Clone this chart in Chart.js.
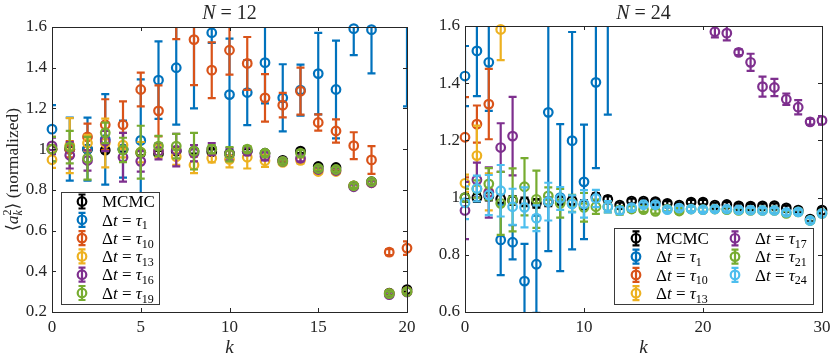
<!DOCTYPE html>
<html>
<head>
<meta charset="utf-8">
<script src="https://cdn.jsdelivr.net/npm/chart.js@4.4.1/dist/chart.umd.min.js"></script>
<style>
html, body { margin: 0; padding: 0; background: #fff; }
#wrap { position: relative; width: 830px; height: 361px; }
canvas { position: absolute; top: 0; }
</style>
</head>
<body>
<div id="wrap">
  <canvas id="chart-n12" width="415" height="361" style="left:0"></canvas>
  <canvas id="chart-n24" width="415" height="361" style="left:415px"></canvas>
</div>
<script>
// ---- data: N = 12 (left) ----
const kN12 = [0,1,2,3,4,5,6,7,8,9,10,11,12,13,14,15,16,17,18,19,20];
const xTicksN12 = [0, 5, 10, 15, 20];
const yTicksN12 = [0.2, 0.4, 0.6, 0.8, 1, 1.2, 1.4, 1.6];

const mcmcN12     = [1.0, 1.0, 1.0, 0.995, 1.0, 0.982, 0.979, 0.99, 0.99, 0.987, 0.98, 0.99, 0.98, 0.945, 0.99, 0.915, 0.91, 0.82, 0.84, 0.293, 0.31];
const mcmcErrN12  = [0.012, 0.012, 0.012, 0.012, 0.012, 0.012, 0.012, 0.012, 0.012, 0.012, 0.012, 0.01, 0.01, 0.01, 0.01, 0.01, 0.01, 0.01, 0.01, 0.01, 0.01];
const tau1N12     = [1.098, 1.0, 1.0, 1.048, 1.0, 1.043, 1.339, 1.4, 1.72, 1.572, 1.268, 1.278, 1.425, 1.252, 1.29, 1.371, 1.293, 1.592, 1.587, null, 1.75];
const tau1ErrN12  = [0.118, 0.155, 0.155, 0.222, 0.14, 0.30, 0.19, 0.28, 0.52, 0.05, 0.275, 0.16, 0.2, 0.165, 0.125, 0.2, 0.24, 0.13, 0.215, null, 0.54];
const tau10N12    = [1.0, 1.0, 1.06, 1.12, 1.12, 1.293, 1.188, 1.76, 1.538, 1.388, 1.486, 1.421, 1.252, 1.216, 1.285, 1.131, 1.089, 1.017, 0.947, 0.494, 0.514];
const tau10ErrN12 = [0.06, 0.04, 0.065, 0.125, 0.115, 0.083, 0.125, 0.22, 0.224, 0.137, 0.12, 0.13, 0.117, 0.06, 0.115, 0.04, 0.057, 0.066, 0.068, 0.015, 0.033];
const tau13N12    = [0.948, 1.017, 1.03, 1.03, 1.02, 0.985, 0.99, 0.963, 0.922, 0.955, 0.95, 0.96, 0.943, 0.935, 0.945, 0.89, 0.89, 0.82, 0.835, 0.29, 0.30];
const tau13ErrN12 = [0.04, 0.135, 0.04, 0.12, 0.06, 0.05, 0.03, 0.04, 0.04, 0.02, 0.04, 0.055, 0.03, 0.01, 0.015, 0.01, 0.01, 0.01, 0.01, 0.01, 0.01];
const tau16N12    = [1.016, 0.97, 0.944, 1.04, 0.96, 0.94, 0.99, 0.995, 0.98, 1.0, 0.975, 0.99, 0.965, 0.94, 0.955, 0.9, 0.895, 0.815, 0.835, 0.285, 0.298];
const tau16ErrN12 = [0.04, 0.065, 0.05, 0.05, 0.12, 0.05, 0.04, 0.08, 0.04, 0.03, 0.03, 0.02, 0.02, 0.01, 0.015, 0.01, 0.01, 0.01, 0.01, 0.01, 0.01];
const tau19N12    = [1.0, 1.01, 0.955, 1.08, 0.996, 0.985, 1.015, 1.015, 0.99, 1.0, 0.975, 1.0, 0.98, 0.94, 0.98, 0.905, 0.9, 0.82, 0.84, 0.29, 0.30];
const tau19ErrN12 = [0.06, 0.08, 0.105, 0.05, 0.06, 0.13, 0.05, 0.06, 0.09, 0.02, 0.035, 0.015, 0.015, 0.01, 0.015, 0.01, 0.01, 0.01, 0.01, 0.01, 0.01];

// ---- data: N = 24 (right) ----
const kN24 = [0,1,2,3,4,5,6,7,8,9,10,11,12,13,14,15,16,17,18,19,20,21,22,23,24,25,26,27,28,29,30];
const xTicksN24 = [0, 10, 20, 30];
const yTicksN24 = [0.6, 0.8, 1, 1.2, 1.4, 1.6];

const mcmcN24     = [1.0, 1.0, 1.005, 0.995, 0.99, 0.985, 0.98, 0.985, 0.99, 0.99, 0.975, 1.003, 0.994, 0.974, 0.988, 0.988, 0.986, 0.98, 0.974, 0.984, 0.984, 0.974, 0.976, 0.971, 0.97, 0.971, 0.972, 0.964, 0.956, 0.925, 0.956];
const mcmcErrN24  = [0.015, 0.015, 0.015, 0.015, 0.015, 0.015, 0.015, 0.015, 0.015, 0.015, 0.015, 0.012, 0.01, 0.008, 0.008, 0.008, 0.008, 0.008, 0.008, 0.008, 0.008, 0.008, 0.008, 0.008, 0.008, 0.008, 0.008, 0.008, 0.008, 0.008, 0.008];
const tau1N24     = [1.425, 1.513, 1.473, 0.852, 0.844, 0.708, 0.767, 1.298, 1.0, 1.199, 1.055, 1.403, 1.75, null, null, null, null, null, null, null, null, null, null, null, null, null, null, null, null, null, null];
const tau1ErrN24  = [0.105, 0.158, 0.17, 0.123, 0.06, 0.13, 0.17, 0.485, 0.257, 0.38, 0.2, 0.3, 0.46, null, null, null, null, null, null, null, null, null, null, null, null, null, null, null, null, null, null];
const tau10N24    = [1.211, 1.257, 1.327, null, null, null, null, null, null, null, null, null, null, null, null, null, null, null, null, null, null, null, null, null, null, null, null, null, null, null, null];
const tau10ErrN24 = [0.14, 0.065, 0.123, null, null, null, null, null, null, null, null, null, null, null, null, null, null, null, null, null, null, null, null, null, null, null, null, null, null, null, null];
const tau13N24    = [1.05, 1.147, 1.02, 1.588, null, null, null, null, null, null, null, null, null, null, null, null, null, null, null, null, null, null, null, null, null, null, null, null, null, null, null];
const tau13ErrN24 = [0.03, 0.105, 0.065, 0.107, null, null, null, null, null, null, null, null, null, null, null, null, null, null, null, null, null, null, null, null, null, null, null, null, null, null, null];
const tau17N24    = [0.955, 1.062, 1.018, 1.175, 1.215, null, null, null, null, null, null, null, null, null, null, null, null, null, null, null, null, 1.58, 1.575, 1.508, 1.473, 1.388, 1.385, 1.344, 1.316, 1.265, 1.27];
const tau17ErrN24 = [0.1, 0.06, 0.088, 0.085, 0.137, null, null, null, null, null, null, null, null, null, null, null, null, null, null, null, null, 0.02, 0.025, 0.01, 0.03, 0.035, 0.03, 0.02, 0.025, 0.01, 0.015];
const tau21N24    = [1.0, 1.03, 1.048, 0.98, 0.992, 1.038, 0.994, 1.006, 0.98, 0.98, 0.966, 0.968, 0.968, 0.955, 0.96, 0.958, 0.952, 0.96, 0.953, 0.96, 0.958, 0.96, 0.958, 0.955, 0.955, 0.955, 0.955, 0.945, 0.95, 0.92, 0.945];
const tau21ErrN24 = [0.03, 0.03, 0.055, 0.11, 0.11, 0.1, 0.1, 0.03, 0.05, 0.03, 0.05, 0.025, 0.02, 0.015, 0.01, 0.008, 0.008, 0.008, 0.008, 0.008, 0.008, 0.008, 0.008, 0.008, 0.008, 0.008, 0.008, 0.008, 0.008, 0.008, 0.008];
const tau24N24    = [0.982, 1.032, 1.009, 1.024, 0.968, 0.966, 0.928, 0.986, 0.997, 0.978, 0.978, 0.997, 0.968, 0.955, 0.965, 0.975, 0.975, 0.958, 0.963, 0.96, 0.958, 0.96, 0.96, 0.957, 0.956, 0.955, 0.955, 0.948, 0.95, 0.92, 0.945];
const tau24ErrN24 = [0.057, 0.045, 0.07, 0.09, 0.063, 0.07, 0.045, 0.066, 0.04, 0.03, 0.048, 0.03, 0.02, 0.012, 0.01, 0.008, 0.008, 0.008, 0.008, 0.008, 0.008, 0.008, 0.008, 0.008, 0.008, 0.008, 0.008, 0.008, 0.008, 0.008, 0.008];

// matlab default colours
const cBlack = '#000000', cBlue = '#0072BD', cOrange = '#D95319', cYellow = '#EDB120',
      cPurple = '#7E2F8E', cGreen = '#77AC30', cCyan = '#4DBEEE';

const SERIF = '"Liberation Serif", "DejaVu Serif", serif';
const AXIS_COLOR = '#262626';
const CAP = 4;
const LW = 2.2;

// dataset helper, series later in the list are drawn on top (like matlab)
const makeSet = (label, color, ks, vals, errs, idx, total) => ({
    label: label,
    data: ks.map((k, i) => ({ x: k, y: vals[i] })),
    errors: errs,
    borderColor: color,
    backgroundColor: 'rgba(0,0,0,0)',
    pointRadius: 4.3,
    pointBorderWidth: LW,
    pointHoverRadius: 4.3,
    showLine: false,
    order: total - idx,
    clip: { left: 8, right: 8, top: 6, bottom: 6 }
});

// draw text made of pieces: {t, it (italic), sub, sup, stack}
const drawPieces = (ctx, pieces, x, y, size, align) => {
    const fontFor = (p) => `${p.it ? 'italic ' : ''}${p.sub || p.sup ? Math.round(size * 0.7) : size}px ${SERIF}`;
    let total = 0;
    const widths = pieces.map(p => {
        ctx.font = fontFor(p);
        const w = p.stack ? 0 : ctx.measureText(p.t).width;
        total += w;
        return w;
    });
    let cx = align === 'center' ? x - total / 2 : x;
    ctx.textBaseline = 'alphabetic';
    ctx.textAlign = 'left';
    pieces.forEach((p, i) => {
        ctx.font = fontFor(p);
        let dy = 0;
        if (p.sub) dy = size * 0.22;
        if (p.sup) dy = -size * 0.38;
        ctx.fillText(p.t, cx, y + size * 0.34 + dy);
        cx += widths[i];
    });
};

const tauLabel = (n) => [{ t: 'Δ' }, { t: 't', it: true }, { t: ' = ' }, { t: 'τ', it: true }, { t: n, sub: true }];

// error bars, drawn just before each dataset's markers
const errorBarPlugin = {
    id: 'errorBars',
    beforeDatasetDraw(chart, args) {
        const ds = chart.data.datasets[args.index];
        const xs = chart.scales.x, ys = chart.scales.y;
        const a = chart.chartArea;
        const ctx = chart.ctx;
        ctx.save();
        ctx.beginPath();
        ctx.rect(a.left, a.top, a.right - a.left, a.bottom - a.top);
        ctx.clip();
        ctx.strokeStyle = ds.borderColor;
        ctx.lineWidth = LW;
        ds.data.forEach((p, i) => {
            const e = ds.errors[i];
            if (p.y === null || e === null) return;
            const px = xs.getPixelForValue(p.x);
            const top = ys.getPixelForValue(p.y + e);
            const bot = ys.getPixelForValue(p.y - e);
            ctx.beginPath();
            ctx.moveTo(px, top); ctx.lineTo(px, bot);
            ctx.moveTo(px - CAP, top); ctx.lineTo(px + CAP, top);
            ctx.moveTo(px - CAP, bot); ctx.lineTo(px + CAP, bot);
            ctx.stroke();
        });
        ctx.restore();
    }
};

// box, inward ticks, tick labels, title, axis labels, legend
const decorPlugin = {
    id: 'decor',
    afterDraw(chart, args, opts) {
        const ctx = chart.ctx;
        const a = chart.chartArea;
        const xs = chart.scales.x, ys = chart.scales.y;
        ctx.save();
        ctx.strokeStyle = AXIS_COLOR;
        ctx.fillStyle = AXIS_COLOR;
        ctx.lineWidth = 1;
        ctx.strokeRect(Math.round(a.left) + 0.5, Math.round(a.top) + 0.5, Math.round(a.right - a.left), Math.round(a.bottom - a.top));

        ctx.beginPath();
        opts.xTicks.forEach(v => {
            const px = Math.round(xs.getPixelForValue(v)) + 0.5;
            ctx.moveTo(px, a.bottom); ctx.lineTo(px, a.bottom - 4);
            ctx.moveTo(px, a.top); ctx.lineTo(px, a.top + 4);
        });
        opts.yTicks.forEach(v => {
            const py = Math.round(ys.getPixelForValue(v)) + 0.5;
            ctx.moveTo(a.left, py); ctx.lineTo(a.left + 4, py);
            ctx.moveTo(a.right, py); ctx.lineTo(a.right - 4, py);
        });
        ctx.stroke();

        ctx.font = `17px ${SERIF}`;
        ctx.textAlign = 'center';
        ctx.textBaseline = 'middle';
        opts.xTicks.forEach(v => ctx.fillText(String(v), xs.getPixelForValue(v), a.bottom + 16));
        ctx.textAlign = 'right';
        opts.yTicks.forEach(v => ctx.fillText(String(v), a.left - 5, ys.getPixelForValue(v)));

        // title and x label
        const cx = (a.left + a.right) / 2;
        drawPieces(ctx, [{ t: 'N', it: true }, { t: ' = ' + opts.n }], cx, 12, 20, 'center');
        drawPieces(ctx, [{ t: 'k', it: true }], cx, 347, 19, 'center');

        // y label
        if (opts.yLabel) {
            ctx.save();
            ctx.translate(12, (a.top + a.bottom) / 2);
            ctx.rotate(-Math.PI / 2);
            drawPieces(ctx, [
                { t: '⟨' }, { t: 'a', it: true }, { t: 'k', it: true, sub: true, stack: true },
                { t: '2', sup: true }, { t: '⟩ (normalized)' }
            ], 0, 0, 17.5, 'center');
            ctx.restore();
        }

        // legend
        const lg = opts.legend;
        ctx.fillStyle = '#fff';
        ctx.fillRect(lg.box[0], lg.box[1], lg.box[2] - lg.box[0], lg.box[3] - lg.box[1]);
        ctx.strokeStyle = '#3a3a3a';
        ctx.lineWidth = 1;
        ctx.strokeRect(lg.box[0] + 0.5, lg.box[1] + 0.5, lg.box[2] - lg.box[0], lg.box[3] - lg.box[1]);
        lg.items.forEach(item => {
            const mx = item.x, my = item.y;
            ctx.strokeStyle = item.color;
            ctx.lineWidth = LW;
            ctx.beginPath();
            ctx.moveTo(mx, my - 7); ctx.lineTo(mx, my + 7);
            ctx.moveTo(mx - 3.5, my - 7); ctx.lineTo(mx + 3.5, my - 7);
            ctx.moveTo(mx - 3.5, my + 7); ctx.lineTo(mx + 3.5, my + 7);
            ctx.stroke();
            ctx.beginPath();
            ctx.arc(mx, my, 4.3, 0, Math.PI * 2);
            ctx.stroke();
            ctx.fillStyle = '#000';
            drawPieces(ctx, item.label, item.tx, my, 17, 'left');
        });
        ctx.restore();
    }
};

const baseOptions = (kmax, ymin, ymax, pad, decor) => ({
    responsive: false,
    animation: false,
    events: [],
    layout: { padding: pad },
    plugins: { legend: { display: false }, tooltip: { enabled: false }, decor: decor },
    scales: {
        x: { type: 'linear', min: 0, max: kmax, display: false },
        y: { type: 'linear', min: ymin, max: ymax, display: false }
    }
});

// left chart: N = 12
const rowY = (i, y0) => y0 + i * 18.3;
new Chart(document.getElementById('chart-n12'), {
    type: 'scatter',
    data: {
        datasets: [
            makeSet('MCMC', cBlack, kN12, mcmcN12, mcmcErrN12, 0, 6),
            makeSet('τ1', cBlue, kN12, tau1N12, tau1ErrN12, 1, 6),
            makeSet('τ10', cOrange, kN12, tau10N12, tau10ErrN12, 2, 6),
            makeSet('τ13', cYellow, kN12, tau13N12, tau13ErrN12, 3, 6),
            makeSet('τ16', cPurple, kN12, tau16N12, tau16ErrN12, 4, 6),
            makeSet('τ19', cGreen, kN12, tau19N12, tau19ErrN12, 5, 6)
        ]
    },
    options: baseOptions(20, 0.2, 1.6, { left: 52, right: 8, top: 27, bottom: 49 }, {
        n: '12', xTicks: xTicksN12, yTicks: yTicksN12, yLabel: true,
        legend: {
            box: [61, 192, 159, 304],
            items: [
                { color: cBlack, x: 82, tx: 102, y: rowY(0, 201.5), label: [{ t: 'MCMC' }] },
                { color: cBlue, x: 82, tx: 102, y: rowY(1, 201.5), label: tauLabel('1') },
                { color: cOrange, x: 82, tx: 102, y: rowY(2, 201.5), label: tauLabel('10') },
                { color: cYellow, x: 82, tx: 102, y: rowY(3, 201.5), label: tauLabel('13') },
                { color: cPurple, x: 82, tx: 102, y: rowY(4, 201.5), label: tauLabel('16') },
                { color: cGreen, x: 82, tx: 102, y: rowY(5, 201.5), label: tauLabel('19') }
            ]
        }
    }),
    plugins: [errorBarPlugin, decorPlugin]
});

// right chart: N = 24 (canvas starts at x = 415)
new Chart(document.getElementById('chart-n24'), {
    type: 'scatter',
    data: {
        datasets: [
            makeSet('MCMC', cBlack, kN24, mcmcN24, mcmcErrN24, 0, 7),
            makeSet('τ1', cBlue, kN24, tau1N24, tau1ErrN24, 1, 7),
            makeSet('τ10', cOrange, kN24, tau10N24, tau10ErrN24, 2, 7),
            makeSet('τ13', cYellow, kN24, tau13N24, tau13ErrN24, 3, 7),
            makeSet('τ17', cPurple, kN24, tau17N24, tau17ErrN24, 4, 7),
            makeSet('τ21', cGreen, kN24, tau21N24, tau21ErrN24, 5, 7),
            makeSet('τ24', cCyan, kN24, tau24N24, tau24ErrN24, 6, 7)
        ]
    },
    options: baseOptions(30, 0.6, 1.6, { left: 50, right: 8, top: 26, bottom: 49 }, {
        n: '24', xTicks: xTicksN24, yTicks: yTicksN24, yLabel: false,
        legend: {
            box: [199, 228, 398, 304],
            items: [
                { color: cBlack, x: 221, tx: 241, y: rowY(0, 238.3), label: [{ t: 'MCMC' }] },
                { color: cBlue, x: 221, tx: 241, y: rowY(1, 238.3), label: tauLabel('1') },
                { color: cOrange, x: 221, tx: 241, y: rowY(2, 238.3), label: tauLabel('10') },
                { color: cYellow, x: 221, tx: 241, y: rowY(3, 238.3), label: tauLabel('13') },
                { color: cPurple, x: 320, tx: 340, y: rowY(0, 238.3), label: tauLabel('17') },
                { color: cGreen, x: 320, tx: 340, y: rowY(1, 238.3), label: tauLabel('21') },
                { color: cCyan, x: 320, tx: 340, y: rowY(2, 238.3), label: tauLabel('24') }
            ]
        }
    }),
    plugins: [errorBarPlugin, decorPlugin]
});
</script>
</body>
</html>
